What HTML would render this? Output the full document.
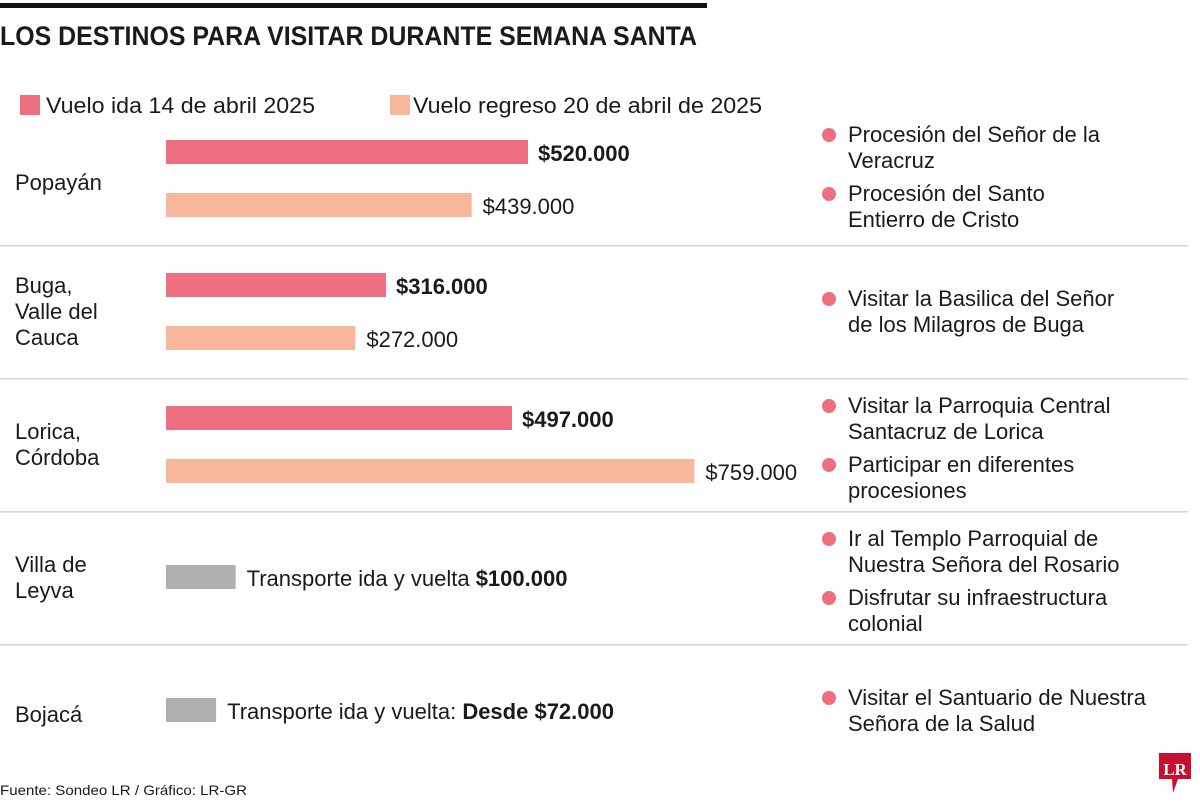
<!DOCTYPE html>
<html><head><meta charset="utf-8"><style>
html,body{margin:0;padding:0;background:#fff}
svg{display:block}
text{font-family:"Liberation Sans",sans-serif;fill:#1a1a1a}
</style></head><body>
<svg id="c" width="1200" height="803" viewBox="0 0 1200 803">
<rect x="0" y="3" width="707" height="5" fill="#111"/>
<text x="0" y="45" font-size="27" font-weight="bold" textLength="697" lengthAdjust="spacingAndGlyphs">LOS DESTINOS PARA VISITAR DURANTE SEMANA SANTA</text>
<rect x="20" y="95" width="20" height="20" fill="#ee6f80"/>
<text x="46" y="113" font-size="22" textLength="269" lengthAdjust="spacingAndGlyphs">Vuelo ida 14 de abril 2025</text>
<rect x="390" y="95" width="20" height="20" fill="#f8b69a"/>
<text x="413" y="113" font-size="22" textLength="349" lengthAdjust="spacingAndGlyphs">Vuelo regreso 20 de abril de 2025</text>
<text x="0" y="795" font-size="14" textLength="247" lengthAdjust="spacingAndGlyphs">Fuente: Sondeo LR / Gráfico: LR-GR</text>
<g>
<path d="M1159 753 h32 v26 h-13 l-5 14 l-1 -14 h-13 z" fill="#c8102e"/>
<text x="1175" y="775" font-size="17" font-weight="bold" text-anchor="middle" style="fill:#fff;font-family:'Liberation Serif',serif">LR</text>
</g>
</svg>
<script>
const cities=[["Popayán"],["Buga,","Valle del","Cauca"],["Lorica,","Córdoba"],["Villa de","Leyva"],["Bojacá"]];
const ida=[520000,316000,497000,null,null];
const regreso=[439000,272000,759000,null,null];
const transporte=[null,null,null,100000,72000];
const transLabels=["","","","Transporte ida y vuelta ","Transporte ida y vuelta: "];
const transBold=["","","","$100.000","Desde $72.000"];
const activities=[
 [["Procesión del Señor de la","Veracruz"],["Procesión del Santo","Entierro de Cristo"]],
 [["Visitar la Basilica del Señor","de los Milagros de Buga"]],
 [["Visitar la Parroquia Central","Santacruz de Lorica"],["Participar en diferentes","procesiones"]],
 [["Ir al Templo Parroquial de","Nuestra Señora del Rosario"],["Disfrutar su infraestructura","colonial"]],
 [["Visitar el Santuario de Nuestra","Señora de la Salud"]]
];
const svg=document.getElementById('c');const NS="http://www.w3.org/2000/svg";
const x0=166, k=362/520000;
const xs=v=>v*k;
const fmt=v=>"$"+v.toLocaleString('de-DE');
function el(tag,a,p){const e=document.createElementNS(NS,tag);for(const q in a)e.setAttribute(q,a[q]);(p||svg).appendChild(e);return e;}
const rowTop=112, rowH=133;
cities.forEach((c,i)=>{
 const top=rowTop+i*rowH, mid=top+66;
 if(i>0){const l=el('rect',{x:0,y:top,width:1188,height:1.5,fill:'#d4d4d4'});
  
  }
 const lh=26, n=c.length, y1=mid-(n-1)*lh/2+(n==1?12:8);
 c.forEach((s,j)=>{const t=el('text',{x:15,y:y1+j*lh,'font-size':22});t.textContent=s;
  
  });
 if(ida[i]!=null){
  const b=el('rect',{x:x0,y:top+28,width:xs(ida[i]),height:24,fill:'#ee6f80'});
  
  
  const t=el('text',{x:x0+xs(ida[i])+10,y:top+49,'font-size':22,'font-weight':'bold'});t.textContent=fmt(ida[i]);
  
  
  const b2=el('rect',{x:x0,y:top+81,width:xs(regreso[i]),height:24,fill:'#f8b69a'});
  
  
  const t2=el('text',{x:x0+xs(regreso[i])+11,y:top+102,'font-size':22});t2.textContent=fmt(regreso[i]);
  
  
 }
 if(transporte[i]!=null){
  const b=el('rect',{x:x0,y:mid-12,width:xs(transporte[i]),height:24,fill:'#b0b0b0'});
  
  
  const t=el('text',{x:x0+xs(transporte[i])+11,y:mid+9,'font-size':22});
  
  
  const s1=el('tspan',{},t);s1.textContent=transLabels[i];
  const s2=el('tspan',{'font-weight':'bold'},t);s2.textContent=transBold[i];
 }
 const acts=activities[i];const tot=acts.length*2;
 let ay=mid-(tot-1)*13+8;
 if(i==0)ay=top+30;
 acts.forEach(a=>{
  const d=el('circle',{cx:829,cy:ay-7,r:7,fill:'#ee6f80'});
  
  
  a.forEach((s,j)=>{const t=el('text',{x:848,y:ay+j*26,'font-size':22});t.textContent=s;
   
   });
  ay+=59;
 });
});
</script>
</body></html>
